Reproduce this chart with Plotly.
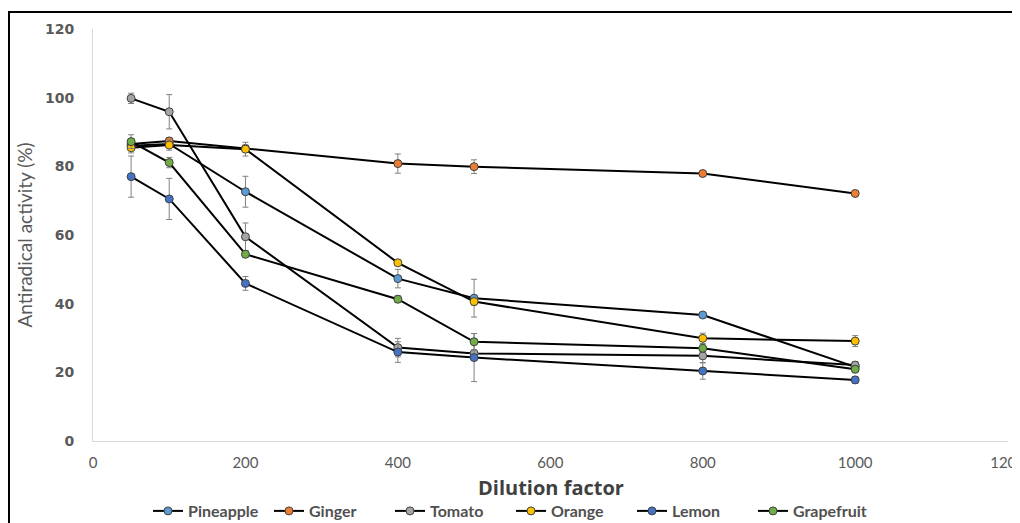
import plotly.graph_objects as go

dilution = [50, 100, 200, 400, 500, 800, 1000]

series_names = ["Pineapple", "Ginger", "Tomato", "Orange", "Lemon", "Grapefruit"]
pineapple = [86.0, 86.5, 72.6, 47.3, 41.6, 36.7, 21.6]
ginger = [86.5, 87.4, 85.2, 80.8, 79.9, 77.9, 72.1]
tomato = [99.8, 95.9, 59.5, 27.2, 25.5, 24.8, 22.1]
orange = [85.4, 86.2, 85.0, 51.9, 40.6, 29.9, 29.1]
lemon = [77.0, 70.5, 45.9, 25.9, 24.3, 20.4, 17.8]
grapefruit = [87.2, 81.1, 54.4, 41.3, 28.9, 27.0, 20.9]

pineapple_err = [1.0, 1.0, 4.5, 2.7, 5.5, 0.5, 0.5]
ginger_err = [1.0, 1.0, 1.0, 2.8, 2.0, 0.5, 0.5]
tomato_err = [1.5, 5.0, 4.0, 2.7, 1.0, 2.0, 1.0]
orange_err = [1.5, 1.5, 2.0, 0.5, 1.0, 1.5, 1.6]
lemon_err = [6.0, 6.0, 2.0, 3.0, 7.0, 2.4, 1.0]
grapefruit_err = [2.0, 1.5, 1.0, 1.0, 2.4, 1.0, 1.0]

x_ticks = [0, 200, 400, 600, 800, 1000, 1200]
y_ticks = [0, 20, 40, 60, 80, 100, 120]

colors = ["#5B9BD5", "#ED7D31", "#A5A5A5", "#FFC000", "#4472C4", "#70AD47"]

values = [pineapple, ginger, tomato, orange, lemon, grapefruit]
errors = [pineapple_err, ginger_err, tomato_err, orange_err, lemon_err, grapefruit_err]

fig = go.Figure()
for name, vals, errs, col in zip(series_names, values, errors, colors):
    fig.add_trace(go.Scatter(
        x=dilution, y=vals, name=name, mode="lines+markers",
        line=dict(color="black", width=2),
        marker=dict(color=col, size=8, line=dict(color="#404040", width=1)),
        error_y=dict(type="data", array=errs, visible=True,
                     color="#808080", thickness=1, width=3),
    ))

# page has an 8px body margin; figure sized to fit the 1020x523 window
W, H = 1012, 515
L, R, T, B = 85, 12, 21, 82
pw, ph = W - L - R, H - T - B

fig.update_layout(
    width=W, height=H,
    margin=dict(l=L, r=R, t=T, b=B, autoexpand=False),
    paper_bgcolor="white", plot_bgcolor="white",
    showlegend=True,
    legend=dict(orientation="h", x=(148 - 8) / W, xanchor="left", xref="container",
                y=1 - (511 - 8) / H, yanchor="middle", yref="container",
                font=dict(family="Lato", size=16, color="#505050", weight="bold"),
                itemwidth=30, tracegroupgap=0, entrywidth=76, entrywidthmode="pixels"),
    xaxis=dict(range=[0, 1200.5], tickvals=x_ticks,
               showgrid=False, zeroline=False, showline=True,
               linecolor="#D9D9D9", linewidth=1, ticks="",
               automargin=False, ticklabeloverflow="allow",
               ticklabelstandoff=8,
               tickfont=dict(family="Lato", size=15, color="#595959")),
    yaxis=dict(range=[0, 120], tickvals=y_ticks,
               showgrid=False, zeroline=False, showline=True,
               linecolor="#D9D9D9", linewidth=1, ticks="",
               automargin=False, ticklabelstandoff=15,
               tickfont=dict(family="DejaVu Sans", size=14, color="#595959", weight="bold"),
               title=dict(text="Antiradical activity (%)", standoff=7,
                          font=dict(family="Lato", size=19, color="#595959"))),
)

fig.add_annotation(text="Dilution factor", xref="paper", yref="paper",
                   x=(551 - 8 - L) / pw, y=(ph - (487 - 8 - T)) / ph,
                   xanchor="center", yanchor="middle", showarrow=False,
                   font=dict(family="Open Sans", size=20, color="#404040", weight="bold"))

fig.add_shape(type="rect", xref="paper", yref="paper",
              x0=(1 - L) / pw, x1=(W + 20 - L) / pw,
              y0=-(B + 20) / ph, y1=1 + (T - 4) / ph,
              line=dict(color="black", width=2), fillcolor="rgba(0,0,0,0)",
              layer="above")

fig.write_html("out.html")
